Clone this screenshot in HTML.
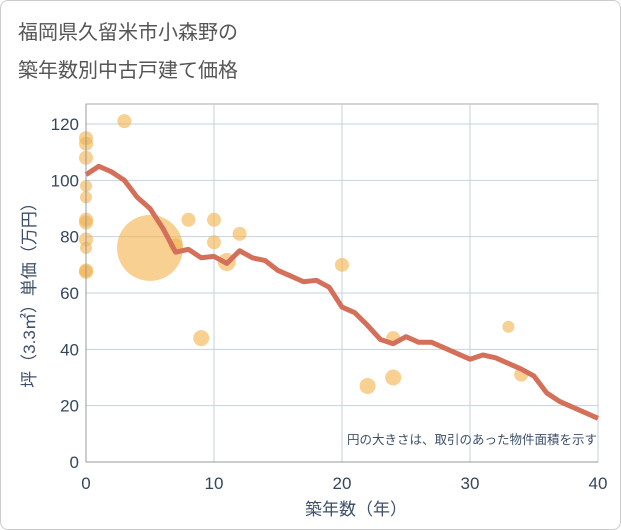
<!DOCTYPE html>
<html><head><meta charset="utf-8"><style>
body{margin:0;background:#fff;}
#wrap{position:relative;width:619px;height:528px;border:1px solid #ccc;border-radius:8px;overflow:hidden;background:#fff;}
svg text{font-family:"Liberation Sans","Noto Sans CJK JP",sans-serif;}
</style></head><body>
<div id="wrap">
<svg id="chart" width="621" height="530">
<text x="17" y="38" font-size="20" fill="#555">福岡県久留米市小森野の</text>
<text x="17" y="76" font-size="20" fill="#555">築年数別中古戸建て価格</text>
<g id="grid"></g>
<g id="dots"></g>
<g id="line"></g>
<g id="axes"></g>
<text x="596" y="443" font-size="12.5" fill="#3d4f6a" text-anchor="end">円の大きさは、取引のあった物件面積を示す</text>
<text x="355" y="514" font-size="17" fill="#3d4f6a" text-anchor="middle">築年数（年）</text>
<text transform="translate(34,290) rotate(-90)" font-size="17" fill="#3d4f6a" text-anchor="middle">坪（3.3㎡）単価（万円）</text>
</svg>
</div>
<script>
const xTicks=[0,10,20,30,40];
const yTicks=[0,20,40,60,80,100,120];
const lineX=[0,1,2,3,4,5,6,7,8,9,10,11,12,13,14,15,16,17,18,19,20,21,22,23,24,25,26,27,28,29,30,31,32,33,34,35,36,37,38,39,40];
const lineY=[102,105,103,100,94,90,83,74.5,75.5,72.5,73,70.5,75,72.5,71.5,68,66,64,64.5,62,55,53,48.5,43.5,42,44.5,42.5,42.5,40.5,38.5,36.5,38,37,35,33,30.5,24.5,21.5,19.5,17.5,15.5];
const dotX=[0,0,0,0,0,0,0,0,0,0,0,3,5,7,8,9,10,10,11,12,20,22,24,24,33,34];
const dotY=[115,113,108,98,94,86,85,79,76,68,67.5,121,76,77,86,44,86,78,71,81,70,27,44,30,48,31];
const dotR=[7,7,7,6,6,7,7,7,6,7,7,7,33,7,7,8,7,7,9,7,7,8,7,8,6,7];
const X0=85,X1=597,Y0=461,Y1=123;
const sx=v=>X0+(v-0)/40*(X1-X0);
const sy=v=>Y0-v/120*(Y0-Y1);
const NS="http://www.w3.org/2000/svg";
function mk(t,p,a){const e=document.createElementNS(NS,t);for(const k in a)e.setAttribute(k,a[k]);p.appendChild(e);return e;}
const grid=document.getElementById('grid'),axes=document.getElementById('axes'),dots=document.getElementById('dots'),line=document.getElementById('line');
mk('rect',grid,{x:X0,y:103,width:X1-X0,height:Y0-103,fill:'none',stroke:'#aaa'});
xTicks.forEach(t=>{const l=mk('line',grid,{x1:sx(t),x2:sx(t),y1:103,y2:Y0,stroke:'#c2d2e0'});


const tx=mk('text',axes,{x:sx(t),y:488,'font-size':17,fill:'#34465f','text-anchor':'middle'});tx.textContent=t;

});
yTicks.forEach(t=>{const l=mk('line',grid,{x1:X0,x2:X1,y1:sy(t),y2:sy(t),stroke:'#c2d2e0'});


const tx=mk('text',axes,{x:78,y:sy(t)+6,'font-size':17,fill:'#34465f','text-anchor':'end'});tx.textContent=t;

});
mk('line',axes,{x1:X0,x2:X1,y1:Y0,y2:Y0,stroke:'#999'});
mk('line',axes,{x1:X0,x2:X0,y1:103,y2:Y0,stroke:'#999'});
dotX.forEach((v,i)=>{const c=mk('circle',dots,{cx:sx(v),cy:sy(dotY[i]),r:dotR[i],fill:'#f2b34f','fill-opacity':0.62});

});
const p=mk('polyline',line,{points:lineX.map((v,i)=>sx(v)+','+sy(lineY[i])).join(' '),fill:'none',stroke:'#d4705a','stroke-width':5,'stroke-linejoin':'round'});


</script>
</body></html>
